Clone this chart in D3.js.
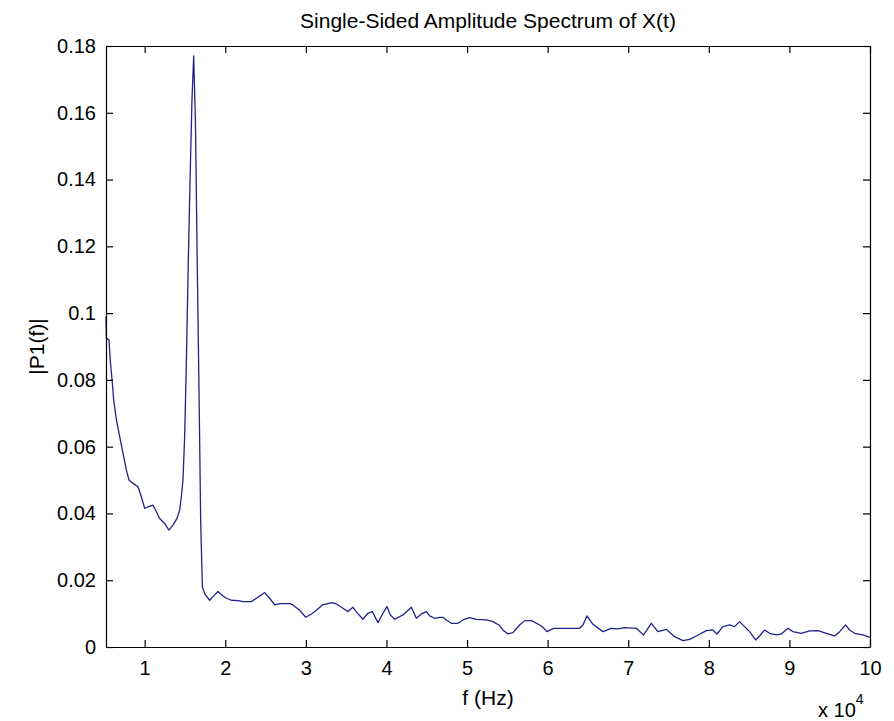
<!DOCTYPE html>
<html>
<head>
<meta charset="utf-8">
<script src="https://cdn.jsdelivr.net/npm/d3@7"></script>
<style>
  body { margin: 0; background: #fff; }
  text { font-family: "Liberation Sans", Arial, sans-serif; fill: #000; }
</style>
</head>
<body>
<div id="chart"></div>
<script>
// frequency (x 10^4 Hz) and single-sided amplitude
const freq = [0.52, 0.525, 0.557, 0.574, 0.599, 0.615, 0.649, 0.690, 0.731, 0.773, 0.805, 0.855, 0.917, 0.959,
  1.000, 1.041, 1.103, 1.145, 1.186, 1.248, 1.301, 1.351, 1.401, 1.434, 1.455, 1.475, 1.496, 1.517, 1.540,
  1.562, 1.587, 1.608, 1.630, 1.651, 1.674, 1.695, 1.716, 1.744, 1.806, 1.856, 1.909, 1.971, 2.014, 2.076,
  2.158, 2.220, 2.324, 2.386, 2.448, 2.489, 2.551, 2.613, 2.675, 2.799, 2.840, 2.923, 2.998, 3.070, 3.130,
  3.205, 3.274, 3.326, 3.378, 3.460, 3.522, 3.584, 3.634, 3.708, 3.770, 3.825, 3.895, 3.957, 4.006, 4.048,
  4.102, 4.205, 4.309, 4.371, 4.433, 4.495, 4.536, 4.598, 4.660, 4.701, 4.743, 4.805, 4.887, 4.949, 5.032,
  5.115, 5.239, 5.321, 5.396, 5.445, 5.507, 5.569, 5.653, 5.715, 5.798, 5.880, 5.942, 5.991, 6.074, 6.232,
  6.397, 6.438, 6.488, 6.562, 6.686, 6.790, 6.872, 6.955, 7.100, 7.191, 7.287, 7.368, 7.473, 7.576, 7.679,
  7.762, 7.845, 7.969, 8.051, 8.101, 8.175, 8.258, 8.320, 8.382, 8.444, 8.506, 8.581, 8.630, 8.692, 8.754,
  8.837, 8.900, 8.981, 9.043, 9.148, 9.251, 9.354, 9.458, 9.561, 9.623, 9.697, 9.747, 9.809, 9.912, 10.0]
const amp = [0.099, 0.0925, 0.092, 0.0855, 0.079, 0.074, 0.068, 0.063, 0.058, 0.053, 0.050, 0.049, 0.048, 0.045,
  0.0415, 0.042, 0.0425, 0.0405, 0.0385, 0.037, 0.035, 0.0365, 0.0385, 0.041, 0.045, 0.050, 0.063, 0.085, 0.114,
  0.139, 0.164, 0.177, 0.157, 0.117, 0.077, 0.0375, 0.018, 0.016, 0.014, 0.0153, 0.0166, 0.0153, 0.0146, 0.014,
  0.0139, 0.0136, 0.0136, 0.0146, 0.0156, 0.0163, 0.0146, 0.0126, 0.013, 0.013, 0.0126, 0.011, 0.0089, 0.0099, 0.011,
  0.0126, 0.0130, 0.0133, 0.0129, 0.0116, 0.0106, 0.0119, 0.0103, 0.0083, 0.0101, 0.0106, 0.0073, 0.0101, 0.0121, 0.0096,
  0.0083, 0.0096, 0.0119, 0.0086, 0.0099, 0.0106, 0.0093, 0.0086, 0.0089, 0.0089, 0.0081, 0.0071, 0.0071, 0.0081, 0.0088,
  0.0083, 0.0081, 0.0076, 0.0066, 0.0051, 0.0039, 0.0043, 0.0066, 0.0079, 0.0079, 0.0069, 0.0059, 0.0046, 0.0056, 0.0056,
  0.0056, 0.0066, 0.0093, 0.0068, 0.0046, 0.0056, 0.0054, 0.0058, 0.0056, 0.0036, 0.0071, 0.0046, 0.0053, 0.0031, 0.0019,
  0.0023, 0.0033, 0.0049, 0.0051, 0.0039, 0.0061, 0.0066, 0.0061, 0.0076, 0.0061, 0.0046, 0.0021, 0.0033, 0.0051, 0.0041,
  0.0036, 0.0039, 0.0056, 0.0046, 0.0041, 0.0048, 0.0049, 0.0041, 0.0033, 0.0046, 0.0066, 0.0051, 0.0041, 0.0036, 0.0029]

const xTicks = [1, 2, 3, 4, 5, 6, 7, 8, 9, 10]
const yTicks = [0, 0.02, 0.04, 0.06, 0.08, 0.1, 0.12, 0.14, 0.16, 0.18]
const yTickLabels = ["0", "0.02", "0.04", "0.06", "0.08", "0.1", "0.12", "0.14", "0.16", "0.18"]

// setup the dimensions
const margin = { top: 46, right: 24, bottom: 74, left: 106 }
const width = 894 - margin.left - margin.right
const height = 721 - margin.top - margin.bottom
const tickLen = 7

const svg = d3.select("#chart")
  .append("svg")
    .attr("width", 894)
    .attr("height", 721)

const g = svg.append("g")
    .attr("transform", "translate(" + margin.left + "," + margin.top + ")")

const x = d3.scaleLinear().domain([0.52, 10]).range([0, width])
const y = d3.scaleLinear().domain([0, 0.18]).range([height, 0])

const data = freq.map(function(f, i) { return { f: f, v: amp[i] } })

// the spectrum line
g.append("path")
    .datum(data)
    .attr("fill", "none")
    .attr("stroke", "#22228c")
    .attr("stroke-width", 1.3)
    .attr("stroke-linejoin", "round")
    .attr("d", d3.line()
        .x(function(d) { return x(d.f) })
        .y(function(d) { return y(d.v) })
    )

// axes, MATLAB style: box with inward ticks
g.append("g")
    .attr("transform", `translate(0,${height})`)
    .call(d3.axisBottom(x).tickValues(xTicks).tickFormat(d3.format("d"))
        .tickSizeInner(-tickLen).tickSizeOuter(0).tickPadding(14))
g.append("g")
    .call(d3.axisTop(x).tickValues(xTicks).tickFormat("")
        .tickSizeInner(-tickLen).tickSizeOuter(0))
g.append("g")
    .call(d3.axisLeft(y).tickValues(yTicks).tickFormat(function(d, i) { return yTickLabels[i] })
        .tickSizeInner(-tickLen).tickSizeOuter(0).tickPadding(10))
g.append("g")
    .attr("transform", `translate(${width},0)`)
    .call(d3.axisRight(y).tickValues(yTicks).tickFormat("")
        .tickSizeInner(-tickLen).tickSizeOuter(0))

g.selectAll(".domain").attr("stroke", "#000").attr("stroke-width", 1.2)
g.selectAll(".tick line").attr("stroke", "#000").attr("stroke-width", 1.2)
g.selectAll(".tick text").style("font-size", "20px").attr("fill", "#000")

// title and labels
g.append("text")
    .attr("x", width / 2)
    .attr("y", -18)
    .attr("text-anchor", "middle")
    .style("font-size", "21px")
    .text("Single-Sided Amplitude Spectrum of X(t)")

g.append("text")
    .attr("x", width / 2)
    .attr("y", height + 58)
    .attr("text-anchor", "middle")
    .style("font-size", "21px")
    .text("f (Hz)")

g.append("text")
    .attr("transform", `translate(${-62},${height / 2}) rotate(-90)`)
    .attr("text-anchor", "middle")
    .style("font-size", "21px")
    .text("|P1(f)|")

const expo = g.append("text")
    .attr("x", width - 52)
    .attr("y", height + 70)
    .style("font-size", "20px")
expo.append("tspan").text("x 10")
expo.append("tspan").attr("dy", -13).style("font-size", "14px").text("4")
</script>
</body>
</html>
